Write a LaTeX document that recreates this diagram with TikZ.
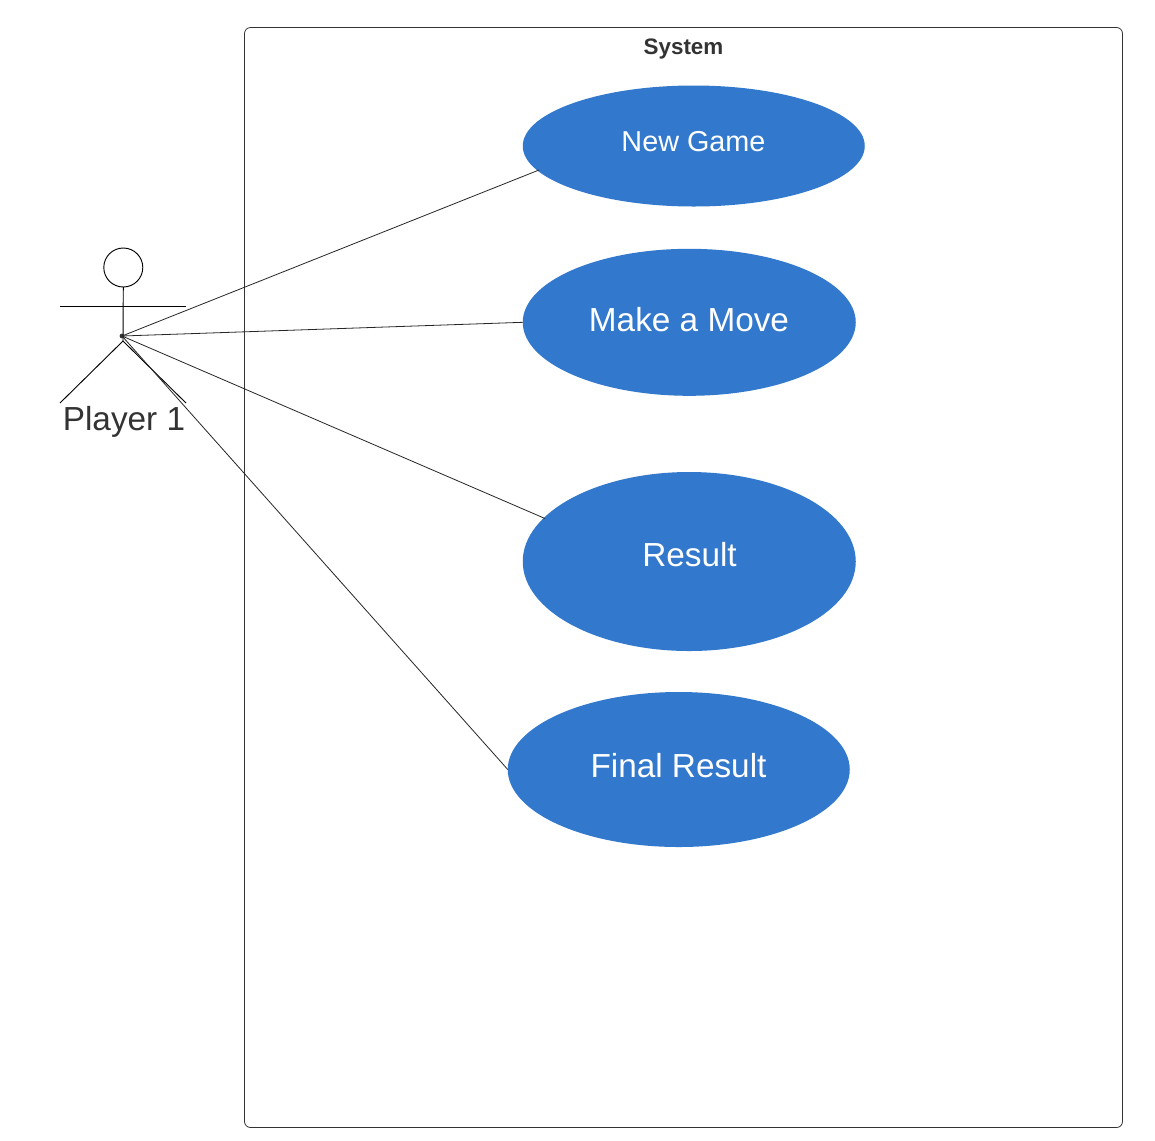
\documentclass[tikz,border=0pt]{standalone}
\usepackage{fontspec}
\setmainfont{Liberation Sans}
\usetikzlibrary{shapes.geometric}
\definecolor{ucblue}{HTML}{3278CC}
\definecolor{txt}{HTML}{333333}
\tikzset{
 x=0.75pt,y=-0.75pt,
 usecase/.style={ellipse,fill=ucblue,draw=none,inner sep=0pt,outer sep=0pt},
 uclabel/.style={text=white,inner sep=0pt,anchor=center},
 wire/.style={draw=black!85,line width=0.6pt},
 actor/.style={draw=black,line width=0.7pt},
}
\begin{document}
\begin{tikzpicture}
\useasboundingbox (0,0) rectangle (1155,1140);
\fill[white] (0,0) rectangle (1155,1140);
\draw[draw=black!80,line width=0.6pt,rounded corners=4.5pt] (244.5,27.5) rectangle (1122.5,1127.5);
\node[text=txt,inner sep=0pt] (sys) at (683.5,48.5) {\fontsize{16.8pt}{18pt}\selectfont\bfseries System};
\node[usecase,minimum width=256.5pt,minimum height=90.75pt] (a) at (693.75,146) {};
\node[usecase,minimum width=249.75pt,minimum height=110.25pt] (b) at (689.25,322.3) {};
\node[usecase,minimum width=249.75pt,minimum height=134.25pt] (c) at (689.25,561.5) {};
\node[usecase,minimum width=256.5pt,minimum height=116.25pt] (d) at (678.75,769.5) {};
\node[uclabel] (at) at (693.5,141.5) {\fontsize{21.6pt}{24pt}\selectfont New Game};
\node[uclabel] (bt) at (689,320) {\fontsize{25pt}{28pt}\selectfont Make a Move};
\node[uclabel] (ct) at (689.5,555) {\fontsize{25pt}{28pt}\selectfont Result};
\node[uclabel] (dt) at (678.5,766) {\fontsize{25pt}{28pt}\selectfont Final Result};
\coordinate (hip) at (122,336);
\coordinate (crotch) at (123,341);
\coordinate (la) at (60,306);
\coordinate (ra) at (186,306);
\coordinate (lf) at (60,403);
\coordinate (rf) at (186,403);
\node[circle,draw=black,line width=0.7pt,minimum size=29.25pt,inner sep=0pt,outer sep=0pt] (head) at (123.3,267.5) {};
\draw[actor] (head.south) -- (crotch);
\draw[actor] (la) -- (ra);
\draw[actor] (lf) -- (crotch) -- (rf);
\fill[black!80] (hip) circle (1.8pt);
\node[text=txt,inner sep=0pt] (pl) at (124,422) {\fontsize{25pt}{28pt}\selectfont Player 1};
\coordinate (ae) at (539,170);
\coordinate (ce) at (545,518.5);
\draw[wire] (hip) -- (ae);
\draw[wire] (hip) -- (b.west);
\draw[wire] (hip) -- (ce);
\draw[wire] (hip) -- (d.west);
\end{tikzpicture}
\end{document}
